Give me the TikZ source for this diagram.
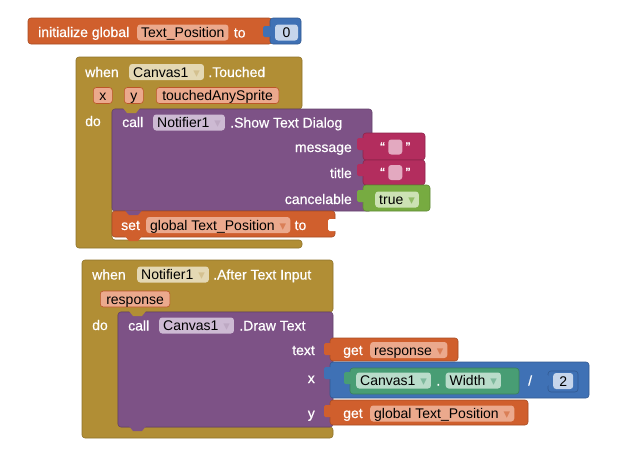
\documentclass[tikz,border=0pt]{standalone}
\usepackage{fontspec}
\setmainfont{Liberation Sans}
\newfontfamily\lblfont[FakeBold=0.6]{Liberation Sans}
\newfontfamily\symfont{DejaVu Sans}
\usetikzlibrary{positioning}

\definecolor{cvar}{HTML}{D05F2D}
\definecolor{cvarf}{HTML}{EBA98D}
\definecolor{colive}{HTML}{B18E35}
\definecolor{colivef}{HTML}{E4D8B4}
\definecolor{cproc}{HTML}{7D5286}
\definecolor{cprocf}{HTML}{CDBAD3}
\definecolor{ctext}{HTML}{B32D5E}
\definecolor{ctextf}{HTML}{E3A9C0}
\definecolor{clogic}{HTML}{77AB41}
\definecolor{clogicf}{HTML}{CCE2B4}
\definecolor{cmath}{HTML}{3F71B5}
\definecolor{cmathf}{HTML}{C6D5EB}
\definecolor{ccomp}{HTML}{489D74}
\definecolor{ccompf}{HTML}{B9DCCA}

\newcommand{\dd}[1]{\hspace{5pt}{\symfont\fontsize{13}{13}\selectfont\color{#1}▾}\hspace{1pt}}

\tikzset{
  blk/.style={fill=#1, draw=#1!80!black, line width=0.6pt, rounded corners=3pt},
  tab/.style={fill=#1, rounded corners=1.5pt},
  lbl/.style={text=white, font=\fontsize{14}{16}\lblfont, inner sep=0pt, text height=10pt, text depth=0pt, anchor=west},
  rlbl/.style={lbl, anchor=east},
  fld/.style={fill=#1, rounded corners=3pt, inner xsep=4pt, inner ysep=0pt, minimum height=16pt, text height=10pt, text depth=0pt, text=black, font=\fontsize{14}{16}\selectfont, anchor=west},
  prm/.style={fld=cvarf, draw=cvar!90!black, line width=0.6pt, inner xsep=6pt, minimum width=19pt}
}

\begin{document}
\begin{tikzpicture}[x=1pt,y=-1pt]
  \useasboundingbox (0,0) rectangle (622,471);

  % initialize global
  \draw[blk=cvar] (28,18) rectangle (272,44);
  \draw[blk=cmath] (270,18) rectangle (301,44);
  \fill[tab=cmath] (263,26) rectangle (271,37);
  \node[lbl] (initl) at (38,32) {initialize global};
  \node[fld=cvarf] (initv) at (137,32.5) {Text\_Position};
  \node[lbl, right=5pt of initv] (initto) {to};
  \node[fld=cmathf, minimum width=23pt, anchor=center] (zero) at (286.5,32.5) {0};

  % when Canvas1.Touched
  \draw[blk=colive] (76,57) -- (302,57) -- (302,109) -- (112,109) -- (112,240) -- (302,240) -- (302,248) -- (76,248) -- cycle;
  \node[lbl] (when1) at (85,72) {when};
  \node[fld=colivef] (cv1) at (129,72) {Canvas1\dd{colive!55!white}};
  \node[lbl, right=4pt of cv1] (touched) {.Touched};
  \node[prm] (px) at (93,95.5) {x};
  \node[prm] (py) at (124,95.5) {y};
  \node[prm] (pany) at (156,95.5) {touchedAnySprite};
  \node[lbl] (do1) at (85,121) {do};

  \draw[blk=cproc] (112,109) rectangle (372,211);
  \fill[colive] (123,108) -- (127,113) -- (136,113) -- (140,108) -- cycle;
  \node[lbl] (call1) at (122,122) {call};
  \node[fld=cprocf] (nt1) at (153,122.5) {Notifier1\dd{cproc!50!white}};
  \node[lbl, right=5pt of nt1] (show) {.Show Text Dialog};
  \node[rlbl] (msg) at (352,147) {message};
  \node[rlbl] (ttl) at (352,173) {title};
  \node[rlbl] (cnc) at (352,199) {cancelable};

  \draw[blk=ctext] (363,133) rectangle (425,160);
  \fill[tab=ctext] (357,138) rectangle (365,150);
  \node[lbl] (mq1) at (380,147) {“};
  \node[fld=ctextf, minimum width=14pt, minimum height=15pt, right=3pt of mq1] (msgv) {};
  \node[lbl, right=3pt of msgv] (mq2) {”};

  \draw[blk=ctext] (363,160) rectangle (425,185);
  \fill[tab=ctext] (357,164) rectangle (365,176);
  \node[lbl] (tq1) at (380,172.5) {“};
  \node[fld=ctextf, minimum width=14pt, minimum height=15pt, right=3pt of tq1] (ttlv) {};
  \node[lbl, right=3pt of ttlv] (tq2) {”};

  \draw[blk=clogic] (363,185) rectangle (430,211);
  \fill[tab=clogic] (357,190) rectangle (365,202);
  \node[fld=clogicf] (tru) at (375,199.5) {true\dd{clogic!80!white}};

  \draw[blk=cvar] (112,211) rectangle (335,237);
  \fill[cproc] (125,210.5) -- (129,215) -- (138,215) -- (142,210.5) -- cycle;
  \fill[cvar] (125,236) -- (129,241) -- (138,241) -- (142,236) -- cycle;
  \node[lbl] (set) at (121,225) {set};
  \node[fld=cvarf] (gtp) at (146,225) {global Text\_Position\dd{cvar!80!white}};
  \node[lbl, right=4pt of gtp] (setto) {to};
  \fill[tab=white] (328,219) rectangle (337,231);

  % when Notifier1.AfterTextInput
  \draw[blk=colive] (82,260) -- (333,260) -- (333,312) -- (118,312) -- (118,427) -- (333,427) -- (333,438) -- (82,438) -- cycle;
  \node[lbl] (when2) at (92,274.5) {when};
  \node[fld=colivef] (nt2) at (137,274.5) {Notifier1\dd{colive!55!white}};
  \node[lbl, right=4pt of nt2] (after) {.After Text Input};
  \node[prm] (presp) at (100,299) {response};
  \node[lbl] (do2) at (92,325) {do};

  \draw[blk=cproc] (118,312) rectangle (333,427);
  \fill[colive] (129,311) -- (133,316) -- (142,316) -- (146,311) -- cycle;
  \fill[cproc] (129,426) -- (133,431) -- (142,431) -- (146,426) -- cycle;
  \node[lbl] (call2) at (128,325.5) {call};
  \node[fld=cprocf] (cv2) at (159,325.5) {Canvas1\dd{cproc!50!white}};
  \node[lbl, right=5pt of cv2] (draw) {.Draw Text};
  \node[rlbl] (ltext) at (315,350) {text};
  \node[rlbl] (lx) at (315,378) {x};
  \node[rlbl] (ly) at (315,413) {y};

  \draw[blk=cvar] (330,338) rectangle (458,361);
  \fill[tab=cvar] (324,343) rectangle (332,355);
  \node[lbl] (get1) at (343,350) {get};
  \node[fld=cvarf] (resp) at (370,350) {response\dd{cvar!80!white}};

  \draw[blk=cmath] (330,362) rectangle (589,398);
  \fill[tab=cmath] (324,367) rectangle (332,379);
  \draw[blk=ccomp] (350,368) rectangle (519,394);
  \fill[tab=ccomp] (344,372) rectangle (352,384);
  \node[fld=ccompf] (cv3) at (356,380.5) {Canvas1\dd{ccomp!70!white}};
  \node[lbl, right=5pt of cv3] (dot) {.};
  \node[fld=ccompf, right=5pt of dot] (wid) {Width\dd{ccomp!70!white}};
  \node[lbl] (div) at (528,380.5) {/};
  \draw[blk=cmath] (548,371) rectangle (578,392);
  \fill[tab=cmath] (543,375) rectangle (549,386);
  \node[fld=cmathf, minimum width=20pt] (two) at (553,381) {2};

  \draw[blk=cvar] (330,400) rectangle (528,425);
  \fill[tab=cvar] (324,405) rectangle (332,417);
  \node[lbl] (get2) at (343,413) {get};
  \node[fld=cvarf] (gtp2) at (370,413.5) {global Text\_Position\dd{cvar!80!white}};
\end{tikzpicture}
\end{document}
